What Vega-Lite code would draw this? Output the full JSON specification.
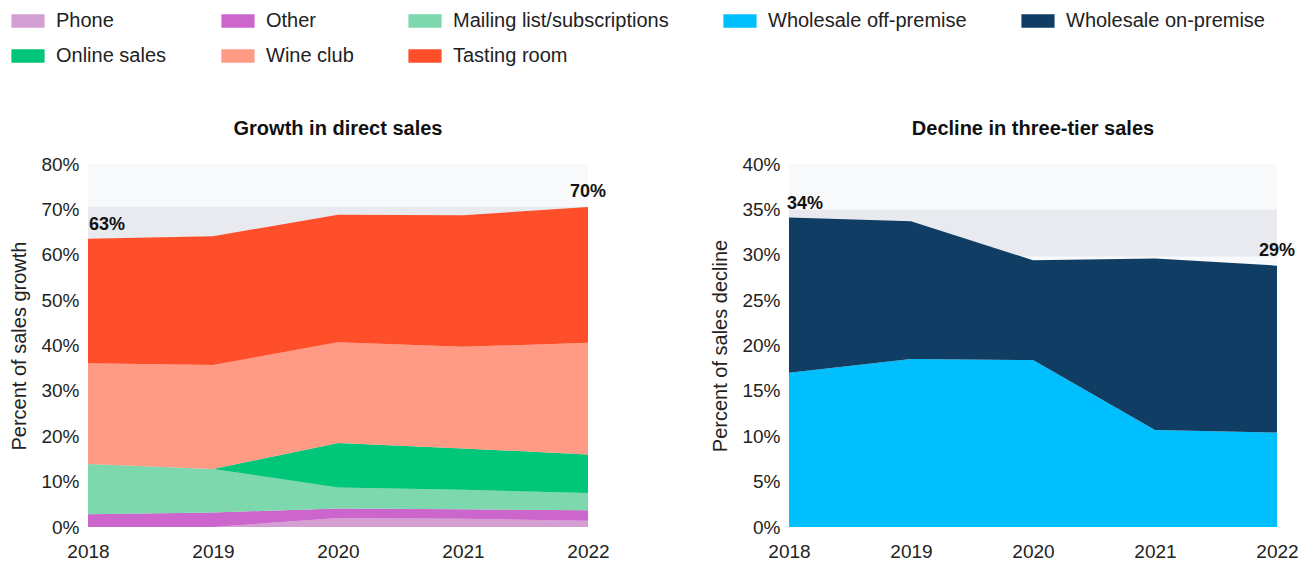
{
  "$schema": "https://vega.github.io/schema/vega-lite/v6.json",
  "background": "white",
  "padding": {"left": 9, "top": 4, "right": 3, "bottom": 6},
  "config": {
    "font": "Liberation Sans",
    "view": {"stroke": null},
    "axis": {"labelFontSize": 19, "labelColor": "#222222", "titleFontSize": 20, "titleFontWeight": "normal", "titleColor": "#222222", "domain": false, "ticks": false, "grid": false},
    "title": {"fontSize": 20, "fontWeight": "bold", "color": "#111111", "offset": 16},
    "legend": {"orient": "none", "legendX": -77, "legendY": -160, "direction": "horizontal", "columns": 5, "title": null, "labelFontSize": 20, "labelColor": "#222222", "symbolType": "M-1,-0.41H1V0.41H-1Z", "symbolSize": 1100, "symbolStrokeWidth": 0, "symbolOpacity": 1, "columnPadding": 54, "rowPadding": 8, "labelOffset": 11, "labelLimit": 400}
  },
  "datasets": {
    "direct": [
      {"year": 2018, "channel": "Phone", "ord": 1, "share": 0},
      {"year": 2018, "channel": "Other", "ord": 2, "share": 2.8},
      {"year": 2018, "channel": "Mailing list/subscriptions", "ord": 3, "share": 11.1},
      {"year": 2018, "channel": "Online sales", "ord": 4, "share": 0},
      {"year": 2018, "channel": "Wine club", "ord": 5, "share": 22.2},
      {"year": 2018, "channel": "Tasting room", "ord": 6, "share": 27.4},
      {"year": 2019, "channel": "Phone", "ord": 1, "share": 0},
      {"year": 2019, "channel": "Other", "ord": 2, "share": 3.2},
      {"year": 2019, "channel": "Mailing list/subscriptions", "ord": 3, "share": 9.6},
      {"year": 2019, "channel": "Online sales", "ord": 4, "share": 0},
      {"year": 2019, "channel": "Wine club", "ord": 5, "share": 22.9},
      {"year": 2019, "channel": "Tasting room", "ord": 6, "share": 28.4},
      {"year": 2020, "channel": "Phone", "ord": 1, "share": 2.0},
      {"year": 2020, "channel": "Other", "ord": 2, "share": 2.1},
      {"year": 2020, "channel": "Mailing list/subscriptions", "ord": 3, "share": 4.6},
      {"year": 2020, "channel": "Online sales", "ord": 4, "share": 9.8},
      {"year": 2020, "channel": "Wine club", "ord": 5, "share": 22.2},
      {"year": 2020, "channel": "Tasting room", "ord": 6, "share": 28.1},
      {"year": 2021, "channel": "Phone", "ord": 1, "share": 1.8},
      {"year": 2021, "channel": "Other", "ord": 2, "share": 2.1},
      {"year": 2021, "channel": "Mailing list/subscriptions", "ord": 3, "share": 4.3},
      {"year": 2021, "channel": "Online sales", "ord": 4, "share": 9.1},
      {"year": 2021, "channel": "Wine club", "ord": 5, "share": 22.4},
      {"year": 2021, "channel": "Tasting room", "ord": 6, "share": 29.0},
      {"year": 2022, "channel": "Phone", "ord": 1, "share": 1.4},
      {"year": 2022, "channel": "Other", "ord": 2, "share": 2.3},
      {"year": 2022, "channel": "Mailing list/subscriptions", "ord": 3, "share": 3.8},
      {"year": 2022, "channel": "Online sales", "ord": 4, "share": 8.5},
      {"year": 2022, "channel": "Wine club", "ord": 5, "share": 24.6},
      {"year": 2022, "channel": "Tasting room", "ord": 6, "share": 29.9}
    ],
    "tier": [
      {"year": 2018, "channel": "Wholesale off-premise", "ord": 1, "share": 17.0},
      {"year": 2018, "channel": "Wholesale on-premise", "ord": 2, "share": 17.1},
      {"year": 2019, "channel": "Wholesale off-premise", "ord": 1, "share": 18.5},
      {"year": 2019, "channel": "Wholesale on-premise", "ord": 2, "share": 15.2},
      {"year": 2020, "channel": "Wholesale off-premise", "ord": 1, "share": 18.4},
      {"year": 2020, "channel": "Wholesale on-premise", "ord": 2, "share": 11.0},
      {"year": 2021, "channel": "Wholesale off-premise", "ord": 1, "share": 10.7},
      {"year": 2021, "channel": "Wholesale on-premise", "ord": 2, "share": 18.9},
      {"year": 2022, "channel": "Wholesale off-premise", "ord": 1, "share": 10.4},
      {"year": 2022, "channel": "Wholesale on-premise", "ord": 2, "share": 18.4}
    ],
    "bands": [
      {"chart": "direct", "start": 2018, "end": 2022, "low": 0, "high": 70.6},
      {"chart": "tier", "start": 2018, "end": 2022, "low": 29.8, "high": 35.0}
    ],
    "totals": [
      {"chart": "direct", "year": 2018, "total": 63.5, "label": "63%"},
      {"chart": "direct", "year": 2022, "total": 70.5, "label": "70%"},
      {"chart": "tier", "year": 2018, "total": 34.1, "label": "34%"},
      {"chart": "tier", "year": 2022, "total": 28.8, "label": "29%"}
    ]
  },
  "resolve": {"scale": {"color": "shared"}, "legend": {"color": "shared"}},
  "spacing": 100,
  "hconcat": [
    {
      "width": 500,
      "height": 363,
      "title": "Growth in direct sales",
      "view": {"fill": "#f8f9fb", "stroke": null},
      "layer": [
        {
          "data": {"name": "bands"},
          "transform": [{"filter": "datum.chart === 'direct'"}],
          "mark": {"type": "rect", "color": "#e8eaef"},
          "encoding": {
            "x": {"field": "start", "type": "quantitative", "scale": {"domain": [2018, 2022], "nice": false, "zero": false}, "axis": {"values": [2018, 2019, 2020, 2021, 2022], "format": "d", "labelFlush": false, "labelPadding": 15, "title": null}},
            "x2": {"field": "end"},
            "y": {"field": "low", "type": "quantitative", "scale": {"domain": [0, 80], "nice": false}, "axis": {"values": [0, 10, 20, 30, 40, 50, 60, 70, 80], "labelExpr": "datum.value + '%'", "labelPadding": 9, "title": "Percent of sales growth", "titlePadding": 11}},
            "y2": {"field": "high"}
          }
        },
        {
          "data": {"name": "direct"},
          "mark": {"type": "area", "opacity": 1},
          "encoding": {
            "x": {"field": "year", "type": "quantitative"},
            "y": {"field": "share", "type": "quantitative", "stack": "zero"},
            "color": {"field": "channel", "type": "nominal", "scale": {"domain": ["Phone", "Other", "Mailing list/subscriptions", "Wholesale off-premise", "Wholesale on-premise", "Online sales", "Wine club", "Tasting room"], "range": ["#d4a0d4", "#cc66cc", "#7dd8ad", "#00bfff", "#0f3d63", "#00c67a", "#ff9b85", "#ff4f2a"]}},
            "order": {"field": "ord", "type": "quantitative", "sort": "ascending"}
          }
        },
        {
          "data": {"name": "totals"},
          "transform": [{"filter": "datum.chart === 'direct' && datum.year === 2018"}],
          "mark": {"type": "text", "align": "left", "baseline": "bottom", "dy": -5, "dx": 1, "fontSize": 18, "fontWeight": "bold", "color": "#111111"},
          "encoding": {"x": {"field": "year", "type": "quantitative"}, "y": {"field": "total", "type": "quantitative"}, "text": {"field": "label"}}
        },
        {
          "data": {"name": "totals"},
          "transform": [{"filter": "datum.chart === 'direct' && datum.year === 2022"}],
          "mark": {"type": "text", "align": "center", "baseline": "bottom", "dy": -6, "dx": 0, "fontSize": 18, "fontWeight": "bold", "color": "#111111"},
          "encoding": {"x": {"field": "year", "type": "quantitative"}, "y": {"field": "total", "type": "quantitative"}, "text": {"field": "label"}}
        }
      ]
    },
    {
      "width": 488,
      "height": 363,
      "title": "Decline in three-tier sales",
      "view": {"fill": "#f8f9fb", "stroke": null},
      "layer": [
        {
          "data": {"name": "bands"},
          "transform": [{"filter": "datum.chart === 'tier'"}],
          "mark": {"type": "rect", "color": "#e8eaef"},
          "encoding": {
            "x": {"field": "start", "type": "quantitative", "scale": {"domain": [2018, 2022], "nice": false, "zero": false}, "axis": {"values": [2018, 2019, 2020, 2021, 2022], "format": "d", "labelFlush": false, "labelPadding": 15, "title": null}},
            "x2": {"field": "end"},
            "y": {"field": "low", "type": "quantitative", "scale": {"domain": [0, 40], "nice": false}, "axis": {"values": [0, 5, 10, 15, 20, 25, 30, 35, 40], "labelExpr": "datum.value + '%'", "labelPadding": 9, "title": "Percent of sales decline", "titlePadding": 11}},
            "y2": {"field": "high"}
          }
        },
        {
          "data": {"name": "tier"},
          "mark": {"type": "area", "opacity": 1},
          "encoding": {
            "x": {"field": "year", "type": "quantitative"},
            "y": {"field": "share", "type": "quantitative", "stack": "zero"},
            "color": {"field": "channel", "type": "nominal", "scale": {"domain": ["Phone", "Other", "Mailing list/subscriptions", "Wholesale off-premise", "Wholesale on-premise", "Online sales", "Wine club", "Tasting room"], "range": ["#d4a0d4", "#cc66cc", "#7dd8ad", "#00bfff", "#0f3d63", "#00c67a", "#ff9b85", "#ff4f2a"]}},
            "order": {"field": "ord", "type": "quantitative", "sort": "ascending"}
          }
        },
        {
          "data": {"name": "totals"},
          "transform": [{"filter": "datum.chart === 'tier' && datum.year === 2018"}],
          "mark": {"type": "text", "align": "left", "baseline": "bottom", "dy": -5, "dx": -2, "fontSize": 18, "fontWeight": "bold", "color": "#111111"},
          "encoding": {"x": {"field": "year", "type": "quantitative"}, "y": {"field": "total", "type": "quantitative"}, "text": {"field": "label"}}
        },
        {
          "data": {"name": "totals"},
          "transform": [{"filter": "datum.chart === 'tier' && datum.year === 2022"}],
          "mark": {"type": "text", "align": "center", "baseline": "bottom", "dy": -6, "dx": 0, "fontSize": 18, "fontWeight": "bold", "color": "#111111"},
          "encoding": {"x": {"field": "year", "type": "quantitative"}, "y": {"field": "total", "type": "quantitative"}, "text": {"field": "label"}}
        }
      ]
    }
  ]
}
